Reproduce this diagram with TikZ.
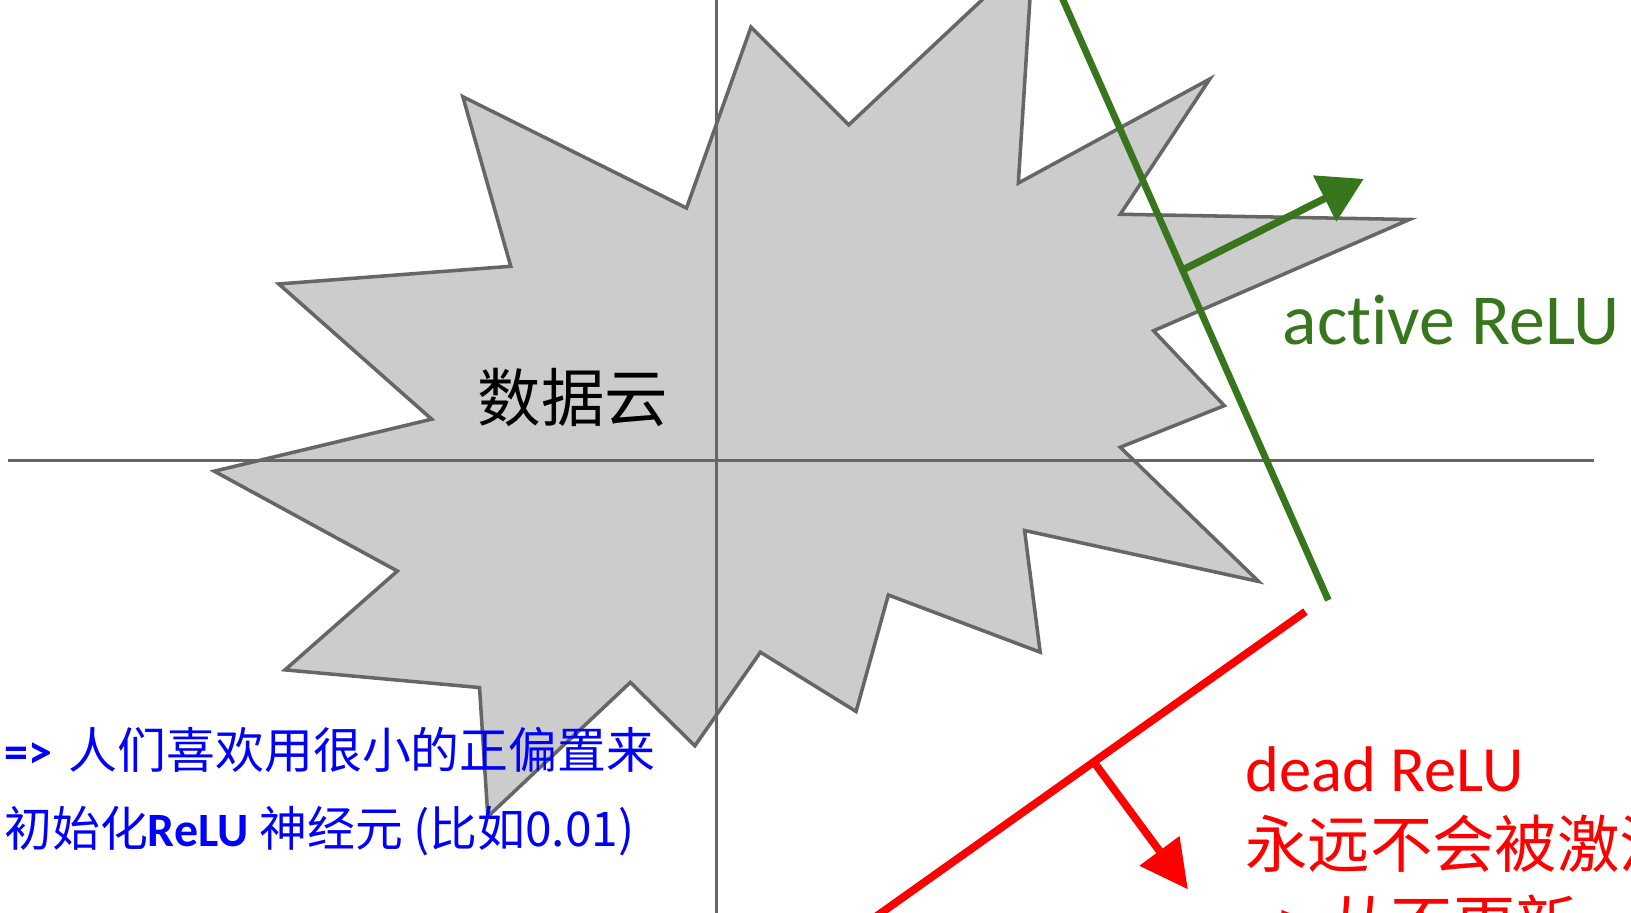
\documentclass[tikz,border=0pt]{standalone}
\usepackage{fontspec}
\setmainfont{Carlito}[Ligatures=NoCommon]
\newfontfamily\cjk{Noto Sans CJK SC}
\usetikzlibrary{arrows.meta,calc}
\definecolor{cloudfill}{HTML}{CCCCCC}
\definecolor{cloudline}{HTML}{666666}
\definecolor{relugreen}{RGB}{56,118,29}
\definecolor{relured}{RGB}{255,0,0}
\definecolor{noteblue}{RGB}{0,0,255}
\begin{document}
\begin{tikzpicture}[x=1pt,y=-1pt,
  cloud/.style={fill=cloudfill,draw=cloudline,line width=3.4pt,line join=miter},
  axis/.style={draw=cloudline,line width=3.2pt},
  greenline/.style={draw=relugreen,line width=6.5pt},
  redline/.style={draw=relured,line width=7.5pt},
  greenarrow/.style={draw=relugreen,line width=7pt,-{Triangle[length=42pt,width=48pt]}},
  redarrow/.style={draw=relured,line width=7.5pt,-{Triangle[length=46pt,width=46pt]}},
  lbl/.style={inner sep=0pt,anchor=base west}]
\useasboundingbox (0,0) rectangle (1568,877);
\clip (0,0) rectangle (1568,877);
\fill[white] (0,0) rectangle (1568,877);
% data cloud
\draw[cloud] (722,26) -- (816,120) -- (993,-46) -- (979,176) -- (1163,76) -- (1077,206)
  -- (1355,211) -- (1109,318) -- (1177,390) -- (1077,430) -- (1210,559) -- (985,510)
  -- (1000,627) -- (854,572) -- (823,684) -- (731,627) -- (668,717) -- (606,656)
  -- (469,785) -- (461,661) -- (274,644) -- (382,549) -- (206,453) -- (415,403)
  -- (268,273) -- (491,256) -- (445,93) -- (660,200) -- cycle;
% axes
\coordinate (xl) at (8,443);
\coordinate (xr) at (1532,443);
\coordinate (yt) at (689,-5);
\coordinate (yb) at (689,890);
\draw[axis] (xl) -- (xr);
\draw[axis] (yt) -- (yb);
% cloud label
\node[inner sep=0pt,anchor=base] (cloudlbl) at (551,405) {\fontsize{61}{66}\selectfont\cjk 数据云};
% active ReLU
\coordinate (g1) at (1022,0);
\coordinate (g2) at (1277,577);
\draw[greenline] ($(g1)!-0.02!(g2)$) -- (g2);
\coordinate (ga) at ($(g1)!0.45!(g2)$);
\coordinate (gtip) at (1311,172);
\draw[greenarrow] (ga) -- (gtip);
\node[lbl,text=relugreen] (activelbl) at (1233,331) {\fontsize{69}{80}\selectfont active ReLU};
% dead ReLU
\coordinate (r1) at (848,877);
\coordinate (r2) at (1255,588);
\draw[redline] ($(r1)!-0.03!(r2)$) -- (r2);
\coordinate (ra) at ($(r1)!0.5!(r2)$);
\coordinate (rtip) at (1142,855);
\draw[redarrow] (ra) -- (rtip);
\node[lbl,text=relured] (deadlbl) at (1197,761) {\fontsize{62}{70}\selectfont dead ReLU};
\node[lbl,text=relured] (deadcn1) at (1197,834) {\fontsize{60}{66}\selectfont\cjk 永远不会被激活};
\node[lbl,text=relured] (deadcn2) at (1197,911) {\fontsize{60}{66}\selectfont\cjk =>\ 从不更新};
% note
\node[lbl,text=noteblue] (note1) at (4,739) {\fontsize{46}{54}\selectfont\textbf{=>}\hspace{16pt}{\fontsize{47}{54}\selectfont\cjk 人们喜欢用很小的正偏置来}};
\node[lbl,text=noteblue] (note2) at (4,814) {\fontsize{46}{54}\selectfont{\cjk 初始化}\textbf{ReLU}\ {\cjk 神经元 (比如0.01)}};
\end{tikzpicture}
\end{document}
